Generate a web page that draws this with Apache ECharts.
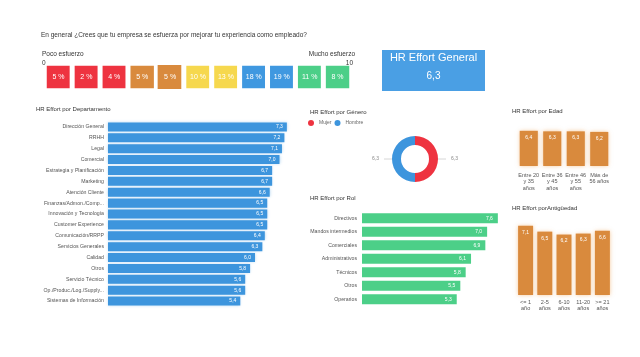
<!DOCTYPE html>
<html><head><meta charset="utf-8">
<script src="https://cdn.jsdelivr.net/npm/echarts@6/dist/echarts.min.js"></script>
<style>html,body{margin:0;padding:0;background:#fff}#c{width:640px;height:357px}</style>
</head><body><div id="c"></div>
<script>
const question = 'En general ¿Crees que tu empresa se esfuerza por mejorar tu experiencia como empleado?';
const scaleSteps = ['0','1','2','3','4','5','6','7','8','9','10'];
const scalePct = [5, 2, 4, 5, 5, 10, 13, 18, 19, 11, 8];
const scaleColors = ['#ee3340','#ee3340','#ee3340','#d98a3d','#d98a3d','#f6d84e','#f6d84e','#3f98e0','#3f98e0','#4ccf88','#4ccf88'];
const generalScore = 6.3;
const deptNames = ['Dirección General','RRHH','Legal','Comercial','Estrategia y Planificación','Marketing','Atención Cliente','Finanzas/Admon./Comp...','Innovación y Tecnología','Customer Experience','Comunicación/RRPP','Servicios Generales','Calidad','Otros','Servicio Técnico','Op./Produc./Log./Supply...','Sistemas de Información'];
const deptValues = [7.3, 7.2, 7.1, 7.0, 6.7, 6.7, 6.6, 6.5, 6.5, 6.5, 6.4, 6.3, 6.0, 5.8, 5.6, 5.6, 5.4];
const genderNames = ['Mujer', 'Hombre'];
const genderValues = [6.3, 6.3];
const roleNames = ['Directivos','Mandos intermedios','Comerciales','Administrativos','Técnicos','Otros','Operarios'];
const roleValues = [7.6, 7.0, 6.9, 6.1, 5.8, 5.5, 5.3];
const ageNames = ['Entre 20\ny 35\naños','Entre 36\ny 45\naños','Entre 46\ny 55\naños','Más de\n56 años'];
const ageValues = [6.4, 6.3, 6.3, 6.2];
const tenureNames = ['<= 1\naño','2-5\naños','6-10\naños','11-20\naños','>= 21\naños'];
const tenureValues = [7.1, 6.5, 6.2, 6.3, 6.6];

const FF = 'Liberation Sans';
const fmt = v => Number(v).toFixed(1).replace('.', ',');
const chart = echarts.init(document.getElementById('c'));
const t = (text, pos, size) => Object.assign({text, padding: 0, textStyle: {fontSize: size || 6, fontWeight: 'normal', color: '#333', fontFamily: FF}}, pos);
const blue = '#3d95dd', green = '#4ccf88', orange = '#d98a3d';
chart.setOption({
  animation: false,
  textStyle: {fontFamily: FF},
  title: [
    t(question, {left: 41, top: 32}, 6.5),
    t('Poco esfuerzo', {left: 42, top: 51}, 6.5),
    t('0', {left: 42, top: 59.5}, 6.5),
    t('Mucho esfuerzo', {right: 285, top: 51}, 6.5),
    t('10', {right: 287, top: 59.5}, 6.5),
    t('HR Effort por Departamento', {left: 36, top: 106}),
    t('HR Effort por Género', {left: 310, top: 109}),
    t('HR Effort por Rol', {left: 310, top: 195}),
    t('HR Effort por Edad', {left: 512, top: 108}),
    t('HR Effort porAntigüedad', {left: 512, top: 205})
  ],
  graphic: [
    {type: 'rect', left: 382, top: 50, shape: {width: 103, height: 41}, style: {fill: '#4a9fe4'}},
    {type: 'text', x: 433.5, y: 57.5, style: {text: 'HR Effort General', fill: '#fff', font: '11px ' + FF, textAlign: 'center', textVerticalAlign: 'middle'}},
    {type: 'text', x: 433.5, y: 76, style: {text: fmt(generalScore), fill: '#fff', font: '10px ' + FF, textAlign: 'center', textVerticalAlign: 'middle'}}
  ],
  legend: {data: genderNames, left: 308, top: 120, icon: 'circle', itemWidth: 6, itemHeight: 6, itemGap: 3, padding: 0, textStyle: {fontSize: 5, color: '#666', fontFamily: FF}},
  grid: [
    {left: 44.5, top: 63.5, width: 307, height: 27},
    {left: 108, top: 121.5, width: 196, height: 185},
    {left: 362, top: 211.5, width: 143, height: 94.5},
    {left: 517, top: 122, width: 94, height: 44},
    {left: 516, top: 217, width: 96, height: 78}
  ],
  xAxis: [
    {type: 'category', gridIndex: 0, data: scaleSteps, show: false},
    {type: 'value', gridIndex: 1, min: 0, max: 8, show: false},
    {type: 'value', gridIndex: 2, min: 0, max: 8, show: false},
    {type: 'category', gridIndex: 3, data: ageNames, axisLine: {show: false}, axisTick: {show: false}, axisLabel: {fontSize: 5.5, lineHeight: 6.5, color: '#555', margin: 6, interval: 0}},
    {type: 'category', gridIndex: 4, data: tenureNames, axisLine: {show: false}, axisTick: {show: false}, axisLabel: {fontSize: 5.5, lineHeight: 6, color: '#555', margin: 4, interval: 0}}
  ],
  yAxis: [
    {type: 'category', gridIndex: 0, data: ['r'], show: false},
    {type: 'category', gridIndex: 1, data: deptNames, inverse: true, axisLine: {show: false}, axisTick: {show: false}, axisLabel: {fontSize: 5.2, color: '#555', margin: 4, interval: 0}},
    {type: 'category', gridIndex: 2, data: roleNames, inverse: true, axisLine: {show: false}, axisTick: {show: false}, axisLabel: {fontSize: 5.2, color: '#555', margin: 5, interval: 0}},
    {type: 'value', gridIndex: 3, min: 0, max: 8, show: false},
    {type: 'value', gridIndex: 4, min: 0, max: 8, show: false}
  ],
  series: [
    {type: 'heatmap', xAxisIndex: 0, yAxisIndex: 0,
      data: scalePct.map((p, i) => ({value: [i, 0, p], itemStyle: i === 4 ? {color: scaleColors[i], borderWidth: 3.5} : {color: scaleColors[i]}})),
      itemStyle: {borderColor: '#fff', borderWidth: 5},
      label: {show: true, color: '#fff', fontSize: 7, formatter: p => p.value[2] + ' %'}},
    {type: 'bar', xAxisIndex: 1, yAxisIndex: 1, data: deptValues, barCategoryGap: '17%',
      itemStyle: {color: blue, shadowBlur: 3, shadowColor: 'rgba(61,149,221,0.4)'},
      label: {show: true, position: 'insideRight', color: '#fff', fontSize: 5, distance: 4, formatter: p => fmt(p.value)}},
    {type: 'bar', xAxisIndex: 2, yAxisIndex: 2, data: roleValues, barCategoryGap: '25%',
      itemStyle: {color: green},
      label: {show: true, position: 'insideRight', color: '#fff', fontSize: 5, distance: 5, formatter: p => fmt(p.value)}},
    {type: 'bar', xAxisIndex: 3, yAxisIndex: 3, data: ageValues, barCategoryGap: '23%',
      itemStyle: {color: orange, shadowBlur: 4, shadowColor: 'rgba(235,150,60,0.5)'},
      label: {show: true, position: 'insideTop', color: '#fff', fontSize: 5, distance: 4, formatter: p => fmt(p.value)}},
    {type: 'bar', xAxisIndex: 4, yAxisIndex: 4, data: tenureValues, barCategoryGap: '22%',
      itemStyle: {color: orange, shadowBlur: 4, shadowColor: 'rgba(235,150,60,0.5)'},
      label: {show: true, position: 'insideTop', color: '#fff', fontSize: 5, distance: 4, formatter: p => fmt(p.value)}},
    {type: 'pie', center: [415, 159], radius: [14, 23], startAngle: 90,
      data: genderNames.map((n, i) => ({name: n, value: genderValues[i]})),
      color: ['#ee3340', '#3d95dd'],
      label: {show: true, fontSize: 5, color: '#888', formatter: p => fmt(p.value)},
      labelLine: {length: 4, length2: 4, lineStyle: {color: '#ccc', width: 0.8}}}
  ]
});
</script></body></html>
